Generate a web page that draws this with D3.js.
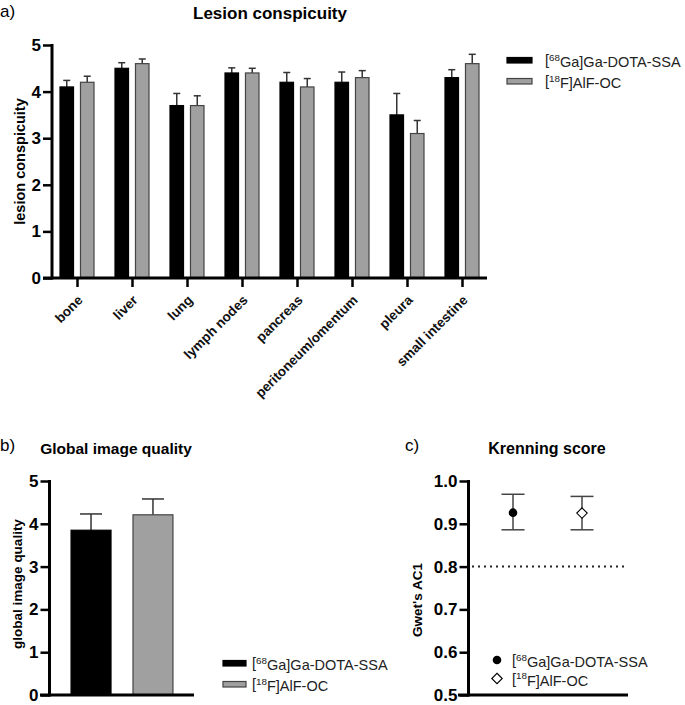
<!DOCTYPE html>
<html>
<head>
<meta charset="utf-8">
<script src="https://cdn.jsdelivr.net/npm/d3@7"></script>
<style>
    body { margin: 0; background: #fff; }
    svg { display: block; font-family: "Liberation Sans", Arial, sans-serif; }
</style>
</head>
<body>
<div id="chart"></div>
<script>
// ---- Data ----
const categories = ["bone", "liver", "lung", "lymph nodes", "pancreas", "peritoneum/omentum", "pleura", "small intestine"];
const series = ["[68Ga]Ga-DOTA-SSA", "[18F]AlF-OC"];

const gaConspicuity = [4.1, 4.5, 3.7, 4.4, 4.2, 4.2, 3.5, 4.3];
const gaConspicuityErr = [0.14, 0.12, 0.26, 0.11, 0.21, 0.22, 0.46, 0.17];
const alfConspicuity = [4.2, 4.6, 3.7, 4.4, 4.1, 4.3, 3.1, 4.6];
const alfConspicuityErr = [0.13, 0.10, 0.21, 0.10, 0.18, 0.15, 0.28, 0.20];

const qualityMean = [3.85, 4.21];
const qualityErr = [0.38, 0.37];

const krenningAC1 = [0.926, 0.925];
const krenningLow = [0.886, 0.886];
const krenningHigh = [0.969, 0.964];
const krenningThreshold = 0.8;

const scoreTicks = [0, 1, 2, 3, 4, 5];
const ac1Ticks = [0.5, 0.6, 0.7, 0.8, 0.9, 1.0];

const fills = { [series[0]]: "#000", [series[1]]: "#a0a0a0" };
const strokes = { [series[0]]: "#000", [series[1]]: "#444" };

const svg = d3.select("#chart").append("svg")
    .attr("width", 685)
    .attr("height", 705);

// label like "[68Ga]..." with superscript mass number
function isotopeText(sel, label) {
    const m = label.match(/^\[(\d+)(.*)$/);
    sel.append("tspan").text("[");
    sel.append("tspan").attr("dy", "-0.45em").style("font-size", "0.68em").text(m[1]);
    sel.append("tspan").attr("dy", "0.45em").text(m[2]);
}

// prism-ish y axis: thick line, major + minor ticks
function yAxis(g, scale, x, majors, minors, fmt) {
    const ax = g.append("g").attr("transform", `translate(${x},0)`);
    ax.call(d3.axisLeft(scale).tickValues(minors).tickSize(5).tickFormat(""));
    ax.call(d3.axisLeft(scale).tickValues(majors).tickSize(9).tickPadding(2).tickFormat(fmt));
    ax.attr("font-size", null).attr("font-family", null);
    ax.selectAll(".domain").remove();
    ax.selectAll("line").attr("stroke", "#000").attr("stroke-width", 2.5);
    ax.selectAll("text")
        .style("font-size", "17px")
        .style("font-weight", "bold")
        .attr("fill", "#000");
    ax.append("line")
        .attr("y1", scale.range()[1] - 1)
        .attr("y2", scale.range()[0] + 1.5)
        .attr("stroke", "#000")
        .attr("stroke-width", 3);
    return ax;
}

function xLine(g, y, x1, x2) {
    g.append("line")
        .attr("x1", x1).attr("x2", x2)
        .attr("y1", y).attr("y2", y)
        .attr("stroke", "#000")
        .attr("stroke-width", 3);
}

function legend(g, x, y, rowGap, textX, marker) {
    series.forEach((s, i) => {
        const row = g.append("g").attr("transform", `translate(${x},${y + i * rowGap})`);
        marker(row, s, i);
        const t = row.append("text")
            .attr("x", textX)
            .attr("y", 0)
            .attr("dy", "0.35em")
            .style("font-size", "14.5px")
            .attr("fill", "#222");
        isotopeText(t, s);
    });
}

// ================= a) Lesion conspicuity =================
const gA = svg.append("g");

const yA = d3.scaleLinear().domain([0, 5]).range([278, 45]);
const xA = d3.scalePoint().domain(categories).range([77, 462]);
const xSub = d3.scaleBand().domain(series).range([-17, 17]).paddingInner(0.34);

const rowsA = categories.map((c, i) => [
    { cat: c, s: series[0], v: gaConspicuity[i], e: gaConspicuityErr[i] },
    { cat: c, s: series[1], v: alfConspicuity[i], e: alfConspicuityErr[i] }
]).flat();

// error bars (upper only)
const errA = gA.selectAll(".errA").data(rowsA).enter().append("g");
errA.append("line")
    .attr("x1", d => xA(d.cat) + xSub(d.s) + xSub.bandwidth() / 2)
    .attr("x2", d => xA(d.cat) + xSub(d.s) + xSub.bandwidth() / 2)
    .attr("y1", d => yA(d.v))
    .attr("y2", d => yA(d.v + d.e))
    .attr("stroke", "#333").attr("stroke-width", 1.5);
errA.append("line")
    .attr("x1", d => xA(d.cat) + xSub(d.s) + xSub.bandwidth() / 2 - 3.5)
    .attr("x2", d => xA(d.cat) + xSub(d.s) + xSub.bandwidth() / 2 + 3.5)
    .attr("y1", d => yA(d.v + d.e))
    .attr("y2", d => yA(d.v + d.e))
    .attr("stroke", "#333").attr("stroke-width", 1.5);

gA.selectAll(".barA").data(rowsA).enter().append("rect")
    .attr("x", d => xA(d.cat) + xSub(d.s))
    .attr("width", xSub.bandwidth())
    .attr("y", d => yA(d.v))
    .attr("height", d => yA(0) - yA(d.v))
    .attr("fill", d => fills[d.s])
    .attr("stroke", d => strokes[d.s])
    .attr("stroke-width", 1.2);

yAxis(gA, yA, 52, scoreTicks, d3.range(0.5, 5, 1), d3.format("d"));
xLine(gA, 278, 43, 487);

const xAxA = gA.append("g").attr("transform", "translate(0,278)")
    .call(d3.axisBottom(xA).tickSize(9).tickFormat(""));
xAxA.select(".domain").remove();
xAxA.selectAll("line").attr("stroke", "#000").attr("stroke-width", 2.5);

// rotated category names
gA.selectAll(".catLabel").data(categories).enter().append("text")
    .attr("class", "catLabel")
    .attr("transform", d => `translate(${xA(d) + 6.5},301) rotate(-45)`)
    .attr("text-anchor", "end")
    .style("font-size", "13.5px")
    .style("font-weight", "bold")
    .attr("fill", "#111")
    .text(d => d);

gA.append("text")
    .attr("transform", `translate(20,${(yA(0) + yA(5)) / 2}) rotate(-90)`)
    .attr("text-anchor", "middle")
    .attr("dy", "0.35em")
    .style("font-size", "14.5px")
    .style("font-weight", "bold")
    .text("lesion conspicuity");

gA.append("text")
    .attr("x", 270).attr("y", 19)
    .attr("text-anchor", "middle")
    .style("font-size", "17px")
    .style("font-weight", "bold")
    .text("Lesion conspicuity");

gA.append("text").attr("x", 0).attr("y", 17).style("font-size", "17px").text("a)");

legend(gA, 507, 60, 21, 38, (row, s) => {
    row.append("rect")
        .attr("x", 0).attr("y", -2.5)
        .attr("width", 25).attr("height", 5.5)
        .attr("fill", fills[s]).attr("stroke", strokes[s]).attr("stroke-width", 1.2);
});

// ================= b) Global image quality =================
const gB = svg.append("g");

const yB = d3.scaleLinear().domain([0, 5]).range([695, 481]);
const xB = d3.scaleBand().domain(series).range([50, 194]).paddingInner(0.355).paddingOuter(0.34);

const rowsB = series.map((s, i) => ({ s, v: qualityMean[i], e: qualityErr[i] }));

const errB = gB.selectAll(".errB").data(rowsB).enter().append("g");
errB.append("line")
    .attr("x1", d => xB(d.s) + xB.bandwidth() / 2)
    .attr("x2", d => xB(d.s) + xB.bandwidth() / 2)
    .attr("y1", d => yB(d.v))
    .attr("y2", d => yB(d.v + d.e))
    .attr("stroke", "#333").attr("stroke-width", 1.5);
errB.append("line")
    .attr("x1", d => xB(d.s) + xB.bandwidth() / 2 - 11)
    .attr("x2", d => xB(d.s) + xB.bandwidth() / 2 + 11)
    .attr("y1", d => yB(d.v + d.e))
    .attr("y2", d => yB(d.v + d.e))
    .attr("stroke", "#333").attr("stroke-width", 1.5);

gB.selectAll(".barB").data(rowsB).enter().append("rect")
    .attr("x", d => xB(d.s))
    .attr("width", xB.bandwidth())
    .attr("y", d => yB(d.v))
    .attr("height", d => yB(0) - yB(d.v))
    .attr("fill", d => fills[d.s])
    .attr("stroke", d => strokes[d.s])
    .attr("stroke-width", 1.2);

yAxis(gB, yB, 49.5, scoreTicks, d3.range(0.5, 5, 1), d3.format("d"));
xLine(gB, 695, 40, 194);

gB.append("text")
    .attr("transform", `translate(17,584) rotate(-90)`)
    .attr("text-anchor", "middle")
    .attr("dy", "0.35em")
    .style("font-size", "13.5px")
    .style("font-weight", "bold")
    .text("global image quality");

gB.append("text")
    .attr("x", 116).attr("y", 454)
    .attr("text-anchor", "middle")
    .style("font-size", "15.5px")
    .style("font-weight", "bold")
    .text("Global image quality");

gB.append("text").attr("x", 0).attr("y", 451).style("font-size", "17px").text("b)");

legend(gB, 223, 663, 21, 29, (row, s) => {
    row.append("rect")
        .attr("x", 0).attr("y", -2.5)
        .attr("width", 23).attr("height", 5.5)
        .attr("fill", fills[s]).attr("stroke", strokes[s]).attr("stroke-width", 1.2);
});

// ================= c) Krenning score =================
const gC = svg.append("g");

const yC = d3.scaleLinear().domain([0.5, 1.0]).range([695, 481]);
const xC = d3.scalePoint().domain(series).range([513, 582]);

const rowsC = series.map((s, i) => ({ s, v: krenningAC1[i], lo: krenningLow[i], hi: krenningHigh[i] }));

gC.append("line")
    .attr("x1", 472).attr("x2", 626)
    .attr("y1", yC(krenningThreshold)).attr("y2", yC(krenningThreshold))
    .attr("stroke", "#222").attr("stroke-width", 2)
    .attr("stroke-dasharray", "2,4");

const errC = gC.selectAll(".errC").data(rowsC).enter().append("g");
errC.append("line")
    .attr("x1", d => xC(d.s)).attr("x2", d => xC(d.s))
    .attr("y1", d => yC(d.lo)).attr("y2", d => yC(d.hi))
    .attr("stroke", "#444").attr("stroke-width", 1.5);
["lo", "hi"].forEach(k => {
    errC.append("line")
        .attr("x1", d => xC(d.s) - 11.5).attr("x2", d => xC(d.s) + 11.5)
        .attr("y1", d => yC(d[k])).attr("y2", d => yC(d[k]))
        .attr("stroke", "#444").attr("stroke-width", 1.5);
});

const symbolC = (sel, s, i) => {
    if (i === 0) {
        sel.append("circle").attr("r", 4.3).attr("fill", "#000");
    } else {
        sel.append("path")
            .attr("d", d3.symbol(d3.symbolDiamond2, 70)())
            .attr("fill", "#fff")
            .attr("stroke", "#000")
            .attr("stroke-width", 1.1);
    }
};

rowsC.forEach((d, i) => {
    const p = gC.append("g").attr("transform", `translate(${xC(d.s)},${yC(d.v)})`);
    symbolC(p, d.s, i);
});

yAxis(gC, yC, 468.5, ac1Ticks, d3.range(0.55, 1.0, 0.1), d3.format(".1f"));
xLine(gC, 695, 458, 628);

gC.append("text")
    .attr("transform", `translate(417,600) rotate(-90)`)
    .attr("text-anchor", "middle")
    .attr("dy", "0.35em")
    .style("font-size", "13.5px")
    .style("font-weight", "bold")
    .text("Gwet's AC1");

gC.append("text")
    .attr("x", 547).attr("y", 454)
    .attr("text-anchor", "middle")
    .style("font-size", "16px")
    .style("font-weight", "bold")
    .text("Krenning score");

gC.append("text").attr("x", 405).attr("y", 451).style("font-size", "17px").text("c)");

legend(gC, 497, 660, 18.5, 15, (row, s, i) => symbolC(row, s, i));
</script>
</body>
</html>
